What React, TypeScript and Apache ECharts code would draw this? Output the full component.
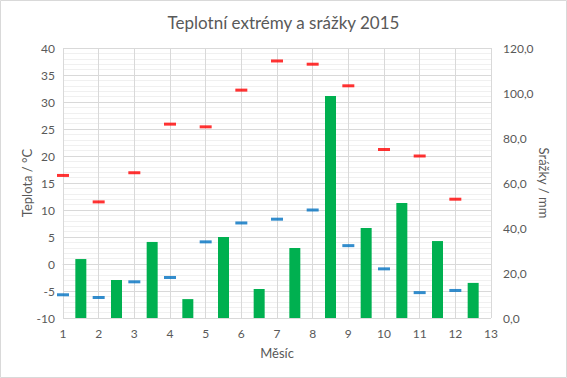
import React, { useEffect, useRef } from "react";
import * as echarts from "echarts";

const months = [1, 2, 3, 4, 5, 6, 7, 8, 9, 10, 11, 12];
const tMax = [16.4, 11.5, 16.9, 25.9, 25.4, 32.2, 37.6, 37.0, 33.0, 21.2, 20.0, 12.0];
const tMin = [-5.7, -6.2, -3.3, -2.5, 4.1, 7.6, 8.3, 10.0, 3.4, -0.9, -5.3, -4.9];
const rain = [26.2, 16.9, 33.8, 8.4, 36.0, 12.9, 31.1, 98.7, 40.0, 51.1, 34.2, 15.6];

const FONT = "Lato, 'Open Sans', sans-serif";
const TXT = "#595959";
const GRID = "#d9d9d9";

export default function App() {
  const ref = useRef<HTMLDivElement>(null);
  useEffect(() => {
    if (!ref.current) return;
    const chart = echarts.init(ref.current, undefined, { renderer: "svg" });
    chart.setOption({
      animation: false,
      backgroundColor: "#fff",
      textStyle: { fontFamily: FONT },
      title: {
        text: "Teplotní extrémy a srážky 2015",
        left: "center",
        top: 9,
        textStyle: { fontFamily: FONT, fontSize: 17, fontWeight: "normal", color: TXT },
      },
      graphic: [
        {
          type: "rect",
          shape: { x: 0.5, y: 0.5, width: 566, height: 377 },
          style: { fill: "none", stroke: GRID, lineWidth: 1 },
          silent: true,
        },
      ],
      grid: { left: 63, right: 76, top: 48, bottom: 60 },
      xAxis: {
        type: "value",
        min: 1,
        max: 13,
        interval: 1,
        name: "Měsíc",
        nameLocation: "middle",
        nameGap: 28,
        nameTextStyle: { color: TXT, fontSize: 13, fontFamily: FONT },
        axisLine: { show: true, lineStyle: { color: GRID } },
        axisTick: { show: false },
        axisLabel: { color: TXT, fontSize: 12, margin: 9, fontFamily: FONT },
        splitLine: { show: true, lineStyle: { color: GRID } },
      },
      yAxis: [
        {
          type: "value",
          min: -10,
          max: 40,
          interval: 5,
          name: "Teplota / °C",
          nameLocation: "middle",
          nameGap: 30,
          nameMoveOverlap: false,
          nameRotate: 90,
          nameTextStyle: { color: TXT, fontSize: 13, fontFamily: FONT },
          axisLine: { show: false },
          axisTick: { show: false },
          axisLabel: { color: TXT, fontSize: 12, margin: 8, fontFamily: FONT },
          splitLine: { show: true, lineStyle: { color: GRID } },
          minorTick: { show: false, splitNumber: 5 },
          minorSplitLine: { show: true, lineStyle: { color: "#f0f0f0" } },
        },
        {
          type: "value",
          min: 0,
          max: 120,
          interval: 20,
          name: "Srážky / mm",
          nameLocation: "middle",
          nameGap: 46,
          nameMoveOverlap: false,
          nameRotate: -90,
          nameTextStyle: { color: TXT, fontSize: 13, fontFamily: FONT },
          axisLine: { show: false },
          axisTick: { show: false },
          axisLabel: {
            color: TXT,
            fontSize: 12,
            margin: 12,
            fontFamily: FONT,
            formatter: (v: number) => v.toFixed(1).replace(".", ","),
          },
          splitLine: { show: false },
        },
      ],
      series: [
        {
          name: "Srážky",
          type: "bar",
          yAxisIndex: 1,
          barWidth: 11,
          itemStyle: { color: "#00b050" },
          data: months.map((m, i) => [m + 0.5, rain[i]]),
        },
        {
          name: "Max",
          type: "scatter",
          symbol: "rect",
          symbolSize: [12, 3],
          itemStyle: { color: "#ff0000" },
          data: months.map((m, i) => [m, tMax[i]]),
        },
        {
          name: "Min",
          type: "scatter",
          symbol: "rect",
          symbolSize: [12, 3],
          itemStyle: { color: "#0070c0" },
          data: months.map((m, i) => [m, tMin[i]]),
        },
      ],
    });
    return () => chart.dispose();
  }, []);
  return (
    <div
      ref={ref}
      style={{ position: "fixed", left: 0, top: 0, width: 567, height: 378 }}
    />
  );
}
